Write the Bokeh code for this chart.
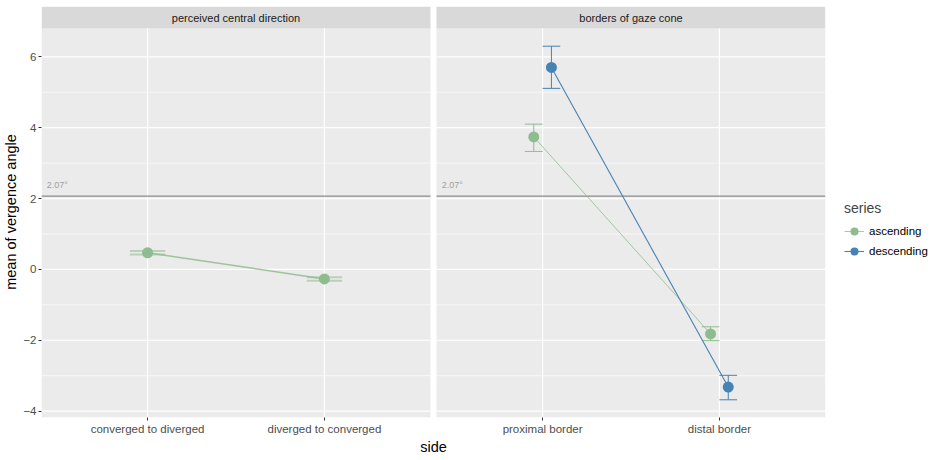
from bokeh.plotting import figure
from bokeh.models import Range1d, FixedTicker, Legend, LegendItem
from bokeh.embed import file_html
from bokeh.resources import INLINE
from bokeh.core.properties import value

# ---------------- data ----------------
panels = ["perceived central direction", "borders of gaze cone"]
left_sides = ["converged to diverged", "diverged to converged"]
right_sides = ["proximal border", "distal border"]
series_names = ["ascending", "descending"]

left_asc_mean = [0.47, -0.27]
left_asc_lower = [0.42, -0.32]
left_asc_upper = [0.52, -0.22]

right_asc_mean = [3.74, -1.82]
right_asc_lower = [3.33, -2.01]
right_asc_upper = [4.10, -1.62]

right_desc_mean = [5.70, -3.32]
right_desc_lower = [5.11, -3.68]
right_desc_upper = [6.30, -2.99]

reference_angle = 2.07
reference_label = "2.07°"
y_major = [-4, -2, 0, 2, 4, 6]
y_minor = [-3, -1, 1, 3, 5]

# ---------------- layout ----------------
FONT = "Liberation Sans"
GREEN = "#8FBC8F"
BLUE = "#4682B4"
BL, BR, BT, BB = 30, 100, 6, 33
frame_w = 784
frame_h = 411
gap_px = 6
panel_px = (frame_w - gap_px) / 2
px_per_unit = panel_px / 2.2
shift = 2.2 + gap_px / px_per_unit
offs = [0.0, shift]

strip_px = 22
y0, y1 = -4.18, 6.80
upu = (y1 - y0) / (frame_h - strip_px)
strip_top = y1 + strip_px * upu

p = figure(frame_width=frame_w, frame_height=frame_h, x_range=Range1d(0.4, 2.6 + shift),
           y_range=Range1d(y0, strip_top), output_backend="svg",
           toolbar_location=None, min_border_left=BL, min_border_right=BR,
           min_border_top=BT, min_border_bottom=BB)
p.grid.visible = False
p.outline_line_color = None
p.background_fill_color = "white"
p.border_fill_color = "white"

lefts = [0.4 + o for o in offs]
rights = [2.6 + o for o in offs]

# panel backgrounds and strips
p.quad(left=lefts, right=rights, bottom=y0, top=y1, fill_color="#EBEBEB", line_color=None)
p.quad(left=lefts, right=rights, bottom=y1, top=strip_top, fill_color="#D9D9D9", line_color=None)

# grid lines per panel
for o in offs:
    p.segment(x0=[0.4 + o] * len(y_minor), x1=[2.6 + o] * len(y_minor), y0=y_minor, y1=y_minor,
              line_color="white", line_width=0.6)
    p.segment(x0=[0.4 + o] * len(y_major), x1=[2.6 + o] * len(y_major), y0=y_major, y1=y_major,
              line_color="white", line_width=1.2)
    xs = [1 + o, 2 + o]
    p.segment(x0=xs, x1=xs, y0=[y0, y0], y1=[y1, y1], line_color="white", line_width=1.2)
    # reference line
    p.segment(x0=[0.4 + o], x1=[2.6 + o], y0=[reference_angle], y1=[reference_angle],
              line_color="#8C8C8C", line_width=1.3)
    p.text(x=[0.4 + o + 0.03], y=[reference_angle + 0.18], text=[reference_label],
           text_font=value(FONT), text_font_size="9px", text_color="#A0A0A0",
           text_align="left", text_baseline="bottom")

# strip labels
p.text(x=[1.5 + o for o in offs], y=[(y1 + strip_top) / 2] * 2, text=panels,
       text_font=value(FONT), text_font_size="11px", text_color="#1A1A1A",
       text_align="center", text_baseline="middle")


def errorbars(xs, lo, hi, cap, color, alpha, width):
    p.segment(x0=xs, x1=xs, y0=lo, y1=hi, line_color=color, line_alpha=alpha, line_width=width)
    p.segment(x0=[x - cap / 2 for x in xs], x1=[x + cap / 2 for x in xs], y0=lo, y1=lo,
              line_color=color, line_alpha=alpha, line_width=width)
    p.segment(x0=[x - cap / 2 for x in xs], x1=[x + cap / 2 for x in xs], y0=hi, y1=hi,
              line_color=color, line_alpha=alpha, line_width=width)


# left panel: ascending only
lx = [1 + offs[0], 2 + offs[0]]
errorbars(lx, left_asc_lower, left_asc_upper, 0.2, GREEN, 0.55, 2)
p.line(lx, left_asc_mean, line_color=GREEN, line_width=1.5, line_alpha=0.85)
p.scatter(lx, left_asc_mean, size=11, fill_color=GREEN, line_color=None)

# right panel: dodged
dodge = 0.05
ax = [1 + offs[1] - dodge, 2 + offs[1] - dodge]
dx = [1 + offs[1] + dodge, 2 + offs[1] + dodge]
errorbars(ax, right_asc_lower, right_asc_upper, 0.1, GREEN, 1.0, 1)
errorbars(dx, right_desc_lower, right_desc_upper, 0.1, BLUE, 1.0, 1)
ga = p.line(ax, right_asc_mean, line_color=GREEN, line_width=0.8)
gd = p.line(dx, right_desc_mean, line_color=BLUE, line_width=1.1)
sa = p.scatter(ax, right_asc_mean, size=11, fill_color=GREEN, line_color=None)
sd = p.scatter(dx, right_desc_mean, size=11, fill_color=BLUE, line_color=None)

# axes
ticks = [1 + offs[0], 2 + offs[0], 1 + offs[1], 2 + offs[1]]
p.xaxis.ticker = FixedTicker(ticks=ticks)
p.xaxis.major_label_overrides = {t: lab for t, lab in zip(ticks, left_sides + right_sides)}
p.yaxis.ticker = FixedTicker(ticks=y_major)
p.xaxis.axis_label = "side"
p.yaxis.axis_label = "mean of vergence angle"
for ax_ in (p.xaxis[0], p.yaxis[0]):
    ax_.axis_line_color = None
    ax_.major_tick_line_color = "#333333"
    ax_.major_tick_out = 3
    ax_.major_tick_in = 0
    ax_.minor_tick_line_color = None
    ax_.major_label_text_font = FONT
    ax_.major_label_text_font_size = "11.5px"
    ax_.major_label_text_color = "#4D4D4D"
    ax_.major_label_standoff = 2
    ax_.axis_label_text_font = FONT
    ax_.axis_label_text_font_size = "14.5px"
    ax_.axis_label_text_font_style = "normal"
    ax_.axis_label_text_color = "black"
    ax_.axis_label_standoff = 1

legend = Legend(items=[LegendItem(label=series_names[0], renderers=[ga, sa]),
                       LegendItem(label=series_names[1], renderers=[gd, sd])],
                title="series", location=(19, 156))
legend.title_text_font = FONT
legend.title_text_font_size = "14px"
legend.title_text_font_style = "normal"
legend.label_text_font = FONT
legend.label_text_font_size = "11.5px"
legend.label_text_color = "black"
legend.border_line_color = None
legend.background_fill_alpha = 0
legend.glyph_width = 20
legend.glyph_height = 20
legend.spacing = 0
legend.padding = 4
legend.margin = 0
p.add_layout(legend, "right")

open("out.html", "w").write(file_html(p, INLINE))
